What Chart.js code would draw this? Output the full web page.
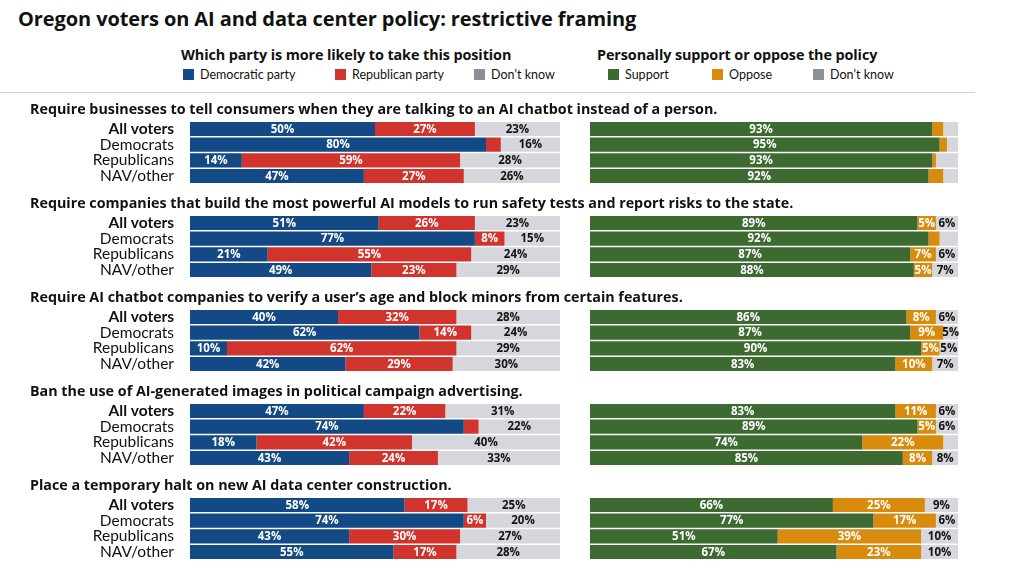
<!DOCTYPE html>
<html>
<head>
<meta charset="utf-8">
<title>Oregon voters on AI and data center policy</title>
<script src="https://cdn.jsdelivr.net/npm/chart.js@4.4.1/dist/chart.umd.min.js"></script>
<style>
    body { margin: 0; background: #fff; font-family: Lato, "Open Sans", sans-serif; color: #111; }
    #page { position: relative; width: 1024px; height: 576px; overflow: hidden; }
    h1 { position: absolute; left: 18px; top: 5px; margin: 0; font-family: "Open Sans", Lato, sans-serif; font-size: 20px; font-weight: 700; letter-spacing: -0.1px; }
    .lg { position: absolute; top: 45px; }
    .lg .lh { font-family: "Open Sans", Lato, sans-serif; font-weight: 700; font-size: 14.4px; line-height: 20px; white-space: nowrap; letter-spacing: -0.1px; }
    .lg .li { position: absolute; top: 23px; font-size: 12.5px; white-space: nowrap; line-height: 14px; }
    .lg .li i { display: inline-block; width: 11px; height: 11px; margin-right: 6px; vertical-align: -1px; }
    #rule { position: absolute; left: 0; top: 92px; width: 975px; height: 1px; background: #cfcfcf; }
    #partyChart { position: absolute; left: 0; top: 96px; }
    #supportChart { position: absolute; left: 570px; top: 96px; }
</style>
</head>
<body>
<div id="page">
    <h1>Oregon voters on AI and data center policy: restrictive framing</h1>

    <div class="lg" style="left:181px">
        <div class="lh">Which party is more likely to take this position</div>
        <div class="li" style="left:2px"><i style="background:#134a85"></i>Democratic party</div>
        <div class="li" style="left:154px"><i style="background:#d1332d"></i>Republican party</div>
        <div class="li" style="left:293px"><i style="background:#8d9099"></i>Don’t know</div>
    </div>
    <div class="lg" style="left:597px">
        <div class="lh">Personally support or oppose the policy</div>
        <div class="li" style="left:11px"><i style="background:#3d6a31"></i>Support</div>
        <div class="li" style="left:115px"><i style="background:#d98b0d"></i>Oppose</div>
        <div class="li" style="left:216px"><i style="background:#8d9099"></i>Don’t know</div>
    </div>
    <div id="rule"></div>

    <canvas id="partyChart" width="1024" height="480"></canvas>
    <canvas id="supportChart" width="454" height="480"></canvas>
</div>

<script>
// Questions and respondent groups
const questions = [
    "Require businesses to tell consumers when they are talking to an AI chatbot instead of a person.",
    "Require companies that build the most powerful AI models to run safety tests and report risks to the state.",
    "Require AI chatbot companies to verify a user’s age and block minors from certain features.",
    "Ban the use of AI-generated images in political campaign advertising.",
    "Place a temporary halt on new AI data center construction."
];
const groups = ["All voters", "Democrats", "Republicans", "NAV/other"];

// Which party is more likely to take this position (%), one row per question
const partyDem = [[50, 80, 14, 47], [51, 77, 21, 49], [40, 62, 10, 42], [47, 74, 18, 43], [58, 74, 43, 55]];
const partyRep = [[27, 4, 59, 27], [26, 8, 55, 23], [32, 14, 62, 29], [22, 4, 42, 24], [17, 6, 30, 17]];
const partyDk = [[23, 16, 28, 26], [23, 15, 24, 29], [28, 24, 29, 30], [31, 22, 40, 33], [25, 20, 27, 28]];

// Personally support or oppose the policy (%)
const support = [[93, 95, 93, 92], [89, 92, 87, 88], [86, 87, 90, 83], [83, 89, 74, 85], [66, 77, 51, 67]];
const oppose = [[3, 2, 1, 4], [5, 3, 7, 5], [8, 9, 5, 10], [11, 5, 22, 8], [25, 17, 39, 23]];
const supportDk = [[4, 3, 6, 4], [6, 5, 6, 7], [6, 5, 5, 7], [6, 6, 4, 8], [9, 6, 10, 10]];

const FONT = "Lato, 'Open Sans', sans-serif";
const BOLD_FONT = "'Open Sans', Lato, sans-serif";

// 6 rows per question: heading row, the 4 groups, a gap row
const rowLabels = [];
const rowKeys = [];
questions.forEach((q, qi) => {
    rowLabels.push("");
    rowKeys.push(null);
    groups.forEach((g, gi) => {
        rowLabels.push(g);
        rowKeys.push([qi, gi]);
    });
    rowLabels.push("");
    rowKeys.push(null);
});

function spread(values) {
    return rowKeys.map(k => (k ? values[k[0]][k[1]] : null));
}

function bigEnough(i, v) {
    return v >= 5;
}

// Percent labels centred on each segment
const valueLabels = {
    id: "valueLabels",
    afterDatasetsDraw(chart) {
        const ctx = chart.ctx;
        const area = chart.chartArea;
        ctx.save();
        ctx.font = "bold 11.5px " + BOLD_FONT;
        ctx.textAlign = "center";
        ctx.textBaseline = "middle";
        chart.data.datasets.forEach((ds, di) => {
            chart.getDatasetMeta(di).data.forEach((bar, i) => {
                const v = ds.data[i];
                if (v == null || !ds.showLabel(i, v)) return;
                const end = Math.min(bar.x, area.right);
                ctx.fillStyle = ds.labelColor;
                ctx.fillText(v + "%", (bar.base + end) / 2, bar.y + 0.5);
            });
        });
        ctx.restore();
    }
};

// Question headings above each block of rows
const headings = {
    id: "headings",
    afterDraw(chart) {
        const ctx = chart.ctx;
        const y = chart.scales.y;
        ctx.save();
        ctx.font = "bold 14.3px " + BOLD_FONT;
        ctx.fillStyle = "#111";
        ctx.textBaseline = "middle";
        questions.forEach((q, qi) => {
            ctx.fillText(q, 30, y.getPixelForValue(qi * 6 + 1) - 19);
        });
        ctx.restore();
    }
};

function barSet(label, values, color, labelColor, showLabel) {
    return {
        label: label,
        data: spread(values),
        backgroundColor: color,
        labelColor: labelColor,
        showLabel: showLabel || bigEnough,
        barPercentage: 0.9,
        categoryPercentage: 1,
        clip: 0
    };
}

function baseOptions(padding, showRows) {
    return {
        indexAxis: "y",
        responsive: false,
        animation: false,
        layout: { padding: padding },
        plugins: { legend: { display: false }, tooltip: { enabled: false } },
        scales: {
            x: { stacked: true, min: 0, max: 100, display: false },
            y: {
                stacked: true,
                display: showRows,
                grid: { display: false, drawTicks: false },
                border: { display: false },
                afterFit: (scale) => {
                    scale.width = showRows ? 190 : 0;
                    scale.paddingTop = 0;
                    scale.paddingBottom = 0;
                },
                ticks: {
                    autoSkip: false,
                    padding: 16,
                    color: "#111",
                    font: (c) => ({
                        family: FONT,
                        size: 15.5,
                        weight: c.tick && c.tick.label === "All voters" ? "bold" : "normal"
                    })
                }
            }
        }
    };
}

new Chart(document.getElementById("partyChart"), {
    type: "bar",
    data: {
        labels: rowLabels,
        datasets: [
            barSet("Democratic party", partyDem, "#134a85", "#fff"),
            barSet("Republican party", partyRep, "#d1332d", "#fff"),
            barSet("Don't know", partyDk, "#d5d7dc", "#111")
        ]
    },
    options: baseOptions({ top: 9.5, bottom: 0.5, left: 0, right: 464 }, true),
    plugins: [valueLabels, headings]
});

new Chart(document.getElementById("supportChart"), {
    type: "bar",
    data: {
        labels: rowLabels,
        datasets: [
            barSet("Support", support, "#3d6a31", "#fff"),
            barSet("Oppose", oppose, "#d98b0d", "#fff"),
            barSet("Don't know", supportDk, "#d5d7dc", "#111", (i, v) => {
                const k = rowKeys[i];
                return v >= 5 && oppose[k[0]][k[1]] >= 5;
            })
        ]
    },
    options: baseOptions({ top: 9.5, bottom: 0.5, left: 20, right: 66 }, false),
    plugins: [valueLabels]
});
</script>
</body>
</html>
